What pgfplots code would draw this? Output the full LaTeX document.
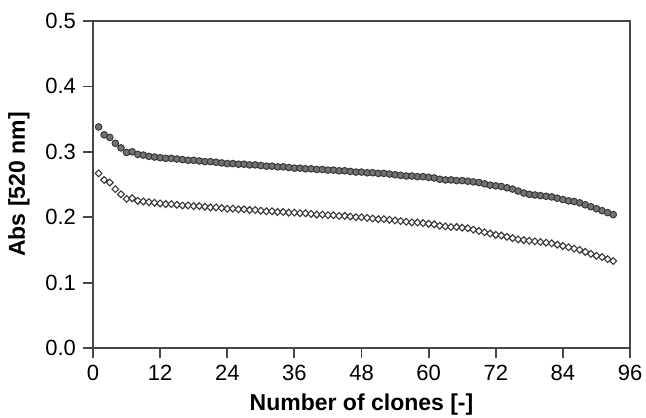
\documentclass[border=0pt]{standalone}
\usepackage{pgfplots}
\pgfplotsset{compat=1.18}
\usepackage{pgfplotstable}
\usepackage{fontspec}
\setmainfont{Liberation Sans}
\definecolor{axgray}{RGB}{70,70,70}
\definecolor{dotfill}{RGB}{115,115,115}
\definecolor{dotedge}{RGB}{55,55,55}

\pgfplotstableread{
x upper lower
1 0.338 0.267
2 0.326 0.257
3 0.322 0.253
4 0.313 0.243
5 0.306 0.235
6 0.299 0.228
7 0.300 0.229
8 0.296 0.225
9 0.295 0.224
10 0.293 0.223
11 0.292 0.222
12 0.291 0.221
13 0.290 0.220
14 0.290 0.220
15 0.289 0.219
16 0.288 0.218
17 0.287 0.218
18 0.287 0.217
19 0.286 0.217
20 0.285 0.216
21 0.285 0.215
22 0.284 0.215
23 0.283 0.214
24 0.282 0.213
25 0.282 0.213
26 0.281 0.212
27 0.281 0.212
28 0.280 0.211
29 0.280 0.211
30 0.279 0.210
31 0.278 0.209
32 0.278 0.209
33 0.277 0.208
34 0.277 0.208
35 0.276 0.207
36 0.275 0.207
37 0.275 0.206
38 0.274 0.206
39 0.274 0.205
40 0.273 0.204
41 0.273 0.204
42 0.272 0.203
43 0.272 0.203
44 0.271 0.202
45 0.271 0.202
46 0.270 0.201
47 0.269 0.200
48 0.269 0.200
49 0.268 0.199
50 0.268 0.198
51 0.267 0.197
52 0.267 0.197
53 0.266 0.196
54 0.265 0.195
55 0.264 0.194
56 0.263 0.193
57 0.263 0.192
58 0.262 0.192
59 0.262 0.191
60 0.261 0.190
61 0.260 0.189
62 0.258 0.187
63 0.257 0.186
64 0.257 0.185
65 0.256 0.185
66 0.256 0.184
67 0.255 0.183
68 0.254 0.181
69 0.253 0.179
70 0.251 0.177
71 0.249 0.175
72 0.248 0.173
73 0.247 0.172
74 0.245 0.170
75 0.243 0.168
76 0.240 0.166
77 0.237 0.165
78 0.235 0.164
79 0.234 0.163
80 0.233 0.162
81 0.232 0.161
82 0.231 0.160
83 0.229 0.158
84 0.227 0.156
85 0.225 0.154
86 0.224 0.152
87 0.222 0.150
88 0.219 0.147
89 0.216 0.144
90 0.213 0.141
91 0.210 0.139
92 0.207 0.136
93 0.204 0.133
}\clones

\begin{document}
\begin{tikzpicture}
\begin{axis}[
  name=ax,
  scale only axis,
  width=268.5pt, height=163.5pt,
  xmin=0, xmax=96, ymin=0, ymax=0.5,
  xtick distance=12,
  ytick={0,0.1,0.2,0.3,0.4,0.5},
  tick pos=left,
  tick align=outside,
  major tick length=5pt,
  axis line style={axgray, line width=0.9pt},
  every tick/.style={axgray, line width=0.9pt},
  tick label style={font=\fontsize{11}{13}\selectfont, black},
  /pgf/number format/assume math mode=true,
  y tick label style={/pgf/number format/.cd, fixed, fixed zerofill, precision=1},
  xlabel={\textbf{Number of clones [-]}},
  ylabel={\textbf{Abs [520 nm]}},
  label style={font=\fontsize{11.5}{13}\selectfont},
  xlabel style={at={(axis description cs:0.5,-0.174)}, anchor=center},
  ylabel style={at={(axis description cs:-0.138,0.5)}, anchor=center},
  clip=false,
]
\addplot[only marks, mark=*, mark size=1.65pt,
  mark options={fill=dotfill, draw=dotedge, line width=0.5pt}]
  table[x=x, y=upper] {\clones};
\addplot[only marks, mark=square*, mark size=1.2pt,
  mark options={fill=white, draw=dotedge, line width=0.55pt, rotate=45}]
  table[x=x, y=lower] {\clones};
\end{axis}
\pgfresetboundingbox
\path (ax.south west) ++(-46.5pt,-34.5pt) rectangle ([shift={(8pt,10.5pt)}]ax.north east);
\end{tikzpicture}
\end{document}
